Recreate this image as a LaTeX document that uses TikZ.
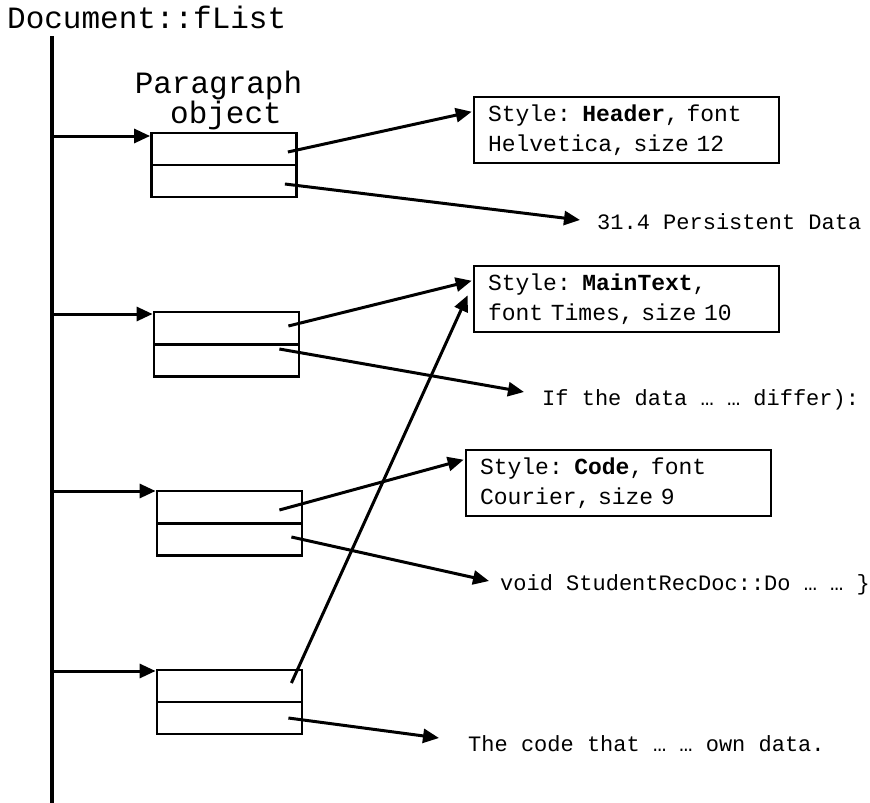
\documentclass[tikz,border=0pt]{standalone}
\usepackage{fontspec}
\setmonofont{Liberation Mono}
\usetikzlibrary{arrows.meta,calc}
\begin{document}
\begin{tikzpicture}[x=1pt,y=-1pt,
  big/.style={font=\ttfamily\fontsize{31}{34}\selectfont, inner sep=0pt},
  lbl/.style={font=\ttfamily\fontsize{22}{30}\selectfont, inner sep=0pt, anchor=base west},
  cell/.style={draw, line width=2.8pt, minimum width=145pt, minimum height=32pt, inner sep=0pt},
  stylebox/.style={draw, line width=2.6pt, minimum width=305pt, minimum height=66pt,
     inner xsep=14pt, inner ysep=0pt, text width=277pt, align=left,
     font=\ttfamily\fontsize{23}{30.5}\selectfont},
  arr/.style={line width=3pt, -{Triangle[length=16pt,width=14pt]}}
]
\useasboundingbox (0,0) rectangle (870,803);

% title and list line
\node[big, anchor=base west] (title) at (7,28) {Document::fList};
\coordinate (ltop) at (52,36);
\coordinate (lbot) at (52,803);
\draw[line width=3.2pt] (ltop) -- (lbot);

\node[big, anchor=base] (para) at (218.5,93) {Paragraph};
\node[big, anchor=base] (obj) at (226,123) {object};

% paragraph objects
\node[cell] (p1t) at (224,149) {};
\node[cell] (p1b) at (224,181) {};
\node[cell] (p2t) at (226.5,328) {};
\node[cell] (p2b) at (226.5,360.5) {};
\node[cell] (p3t) at (229.5,507) {};
\node[cell] (p3b) at (229.5,539.5) {};
\node[cell] (p4t) at (229.5,686) {};
\node[cell] (p4b) at (229.5,718) {};

% entry arrows from list line
\coordinate (e1) at (52,136);
\coordinate (e2) at (52,314);
\coordinate (e3) at (52,491);
\coordinate (e4) at (52,671);
\draw[arr] (e1) -- (e1 -| p1t.west);
\draw[arr] (e2) -- (e2 -| p2t.west);
\draw[arr] (e3) -- (e3 -| p3t.west);
\draw[arr] (e4) -- (e4 -| p4t.west);

% style boxes
\node[stylebox] (s1) at (626.5,130) {Style: \textbf{Header}, font\\Helvetica, size 12};
\node[stylebox] (s2) at (626.5,299) {Style: \textbf{MainText},\\font Times, size 10};
\node[stylebox] (s3) at (618.5,483) {Style: \textbf{Code}, font\\Courier, size 9};

% text labels
\node[lbl] (l1) at (597,229) {31.4 Persistent Data};
\node[lbl] (l2) at (542,405) {If the data … … differ):};
\node[lbl] (l3) at (500,590) {void StudentRecDoc::Do … … \}};
\node[lbl] (l4) at (468,751) {The code that … … own data.};

% connectors
\draw[arr] ($(p1t.east)+(-10,3)$) -- ($(s1.north west)+(-1,16)$);
\draw[arr] ($(p1b.east)+(-13,3)$) -- ($(l1.base west)+(-17,-9)$);
\draw[arr] ($(p2t.east)+(-12,-2)$) -- ($(s2.north west)+(-1,16)$);
\draw[arr] ($(p2b.east)+(-21,-11.5)$) -- ($(l2.base west)+(-18,-13)$);
\draw[arr] ($(p3t.east)+(-24,3)$) -- ($(s3.north west)+(-1,11)$);
\draw[arr] ($(p3b.east)+(-12,-2.5)$) -- ($(l3.base west)+(-11,-9)$);
\draw[arr] ($(p4t.east)+(-12,-3)$) -- ($(s2.south west)+(-5,-38)$);
\draw[arr] ($(p4b.east)+(-15,0)$) -- ($(l4.base west)+(-29,-13)$);
\end{tikzpicture}
\end{document}
